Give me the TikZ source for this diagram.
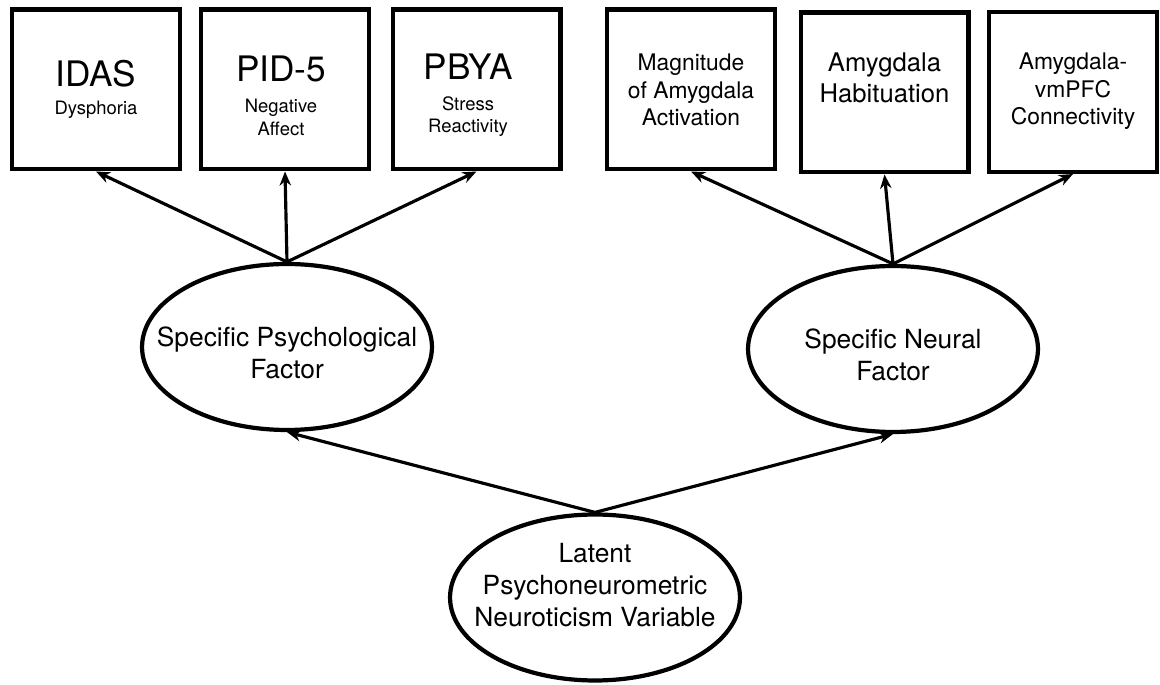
\documentclass[tikz,border=0pt]{standalone}
\usepackage{fontspec}
\setmainfont{TeX Gyre Heros}
\usetikzlibrary{shapes.geometric, arrows.meta, positioning}

\begin{document}
\begin{tikzpicture}[x=0.02cm, y=-0.02cm,
            obs/.style={draw=black, line width=2.3pt, minimum width=3.36cm, minimum height=3.2cm, inner sep=0pt},
            factor/.style={draw=black, ellipse, line width=2.4pt, minimum width=5.8cm, minimum height=3.32cm, inner sep=0pt},
            big/.style={anchor=base, inner sep=0pt, font=\fontsize{20}{24}\selectfont},
            sub/.style={anchor=north, inner sep=0pt, align=center, font=\fontsize{10.5}{13}\selectfont},
            neu/.style={anchor=north, inner sep=0pt, align=center, font=\fontsize{13}{15.6}\selectfont},
            fac/.style={inner sep=0pt, align=center, font=\fontsize{15}{18.2}\selectfont},
            link/.style={-{Stealth[length=8pt, width=6.5pt]}, line width=1.8pt}
        ]
            \useasboundingbox (0,0) rectangle (1160,685);

            % psychological measures
            \node[obs] (idas) at (96,89.5) {};
            \node[obs, right=0.34cm of idas] (pid) {};
            \node[obs, right=0.39cm of pid] (pbya) {};
            \node[big] (idas-t) at (96,87) {IDAS};
            \node[sub, anchor=base] (idas-s) at (96,115) {Dysphoria};
            \node[big] (pid-t) at (281,82) {PID-5};
            \node[sub] (pid-s) at (281,99) {Negative\\Affect};
            \node[big] (pbya-t) at (468,80) {PBYA};
            \node[sub] (pbya-s) at (468,96) {Stress\\Reactivity};

            % neural measures
            \node[obs] (mag) at (691,89.5) {};
            \node[obs] (hab) at (884.5,92.5) {};
            \node[obs] (con) at (1073,92) {};
            \node[neu] (mag-t) at (691,54) {Magnitude\\of Amygdala\\Activation};
            \node[neu, font=\fontsize{14.6}{17.6}\selectfont] (hab-t) at (884.5,52.5) {Amygdala\\Habituation};
            \node[neu] (con-t) at (1073,53) {Amygdala-\\vmPFC\\Connectivity};

            % latent factors
            \node[factor] (psy) at (287,347) {};
            \node[fac] (psy-t) at (287,353) {Specific Psychological\\Factor};
            \node[factor] (neur) at (893,349) {};
            \node[fac] (neur-t) at (893,355) {Specific Neural\\Factor};
            \node[factor] (lat) at (595,597.5) {};
            \node[fac] (lat-t) at (595,585) {Latent\\Psychoneurometric\\Neuroticism Variable};

            \draw[link] (psy.north) -- (idas.south);
            \draw[link] (psy.north) -- (pid.south);
            \draw[link] (psy.north) -- (pbya.south);
            \draw[link] (neur.north) -- (mag.south);
            \draw[link] (neur.north) -- (hab.south);
            \draw[link] (neur.north) -- (con.south);
            \draw[link] (lat.north) -- (psy.south);
            \draw[link] (lat.north) -- (neur.south);
        \end{tikzpicture}
\end{document}
